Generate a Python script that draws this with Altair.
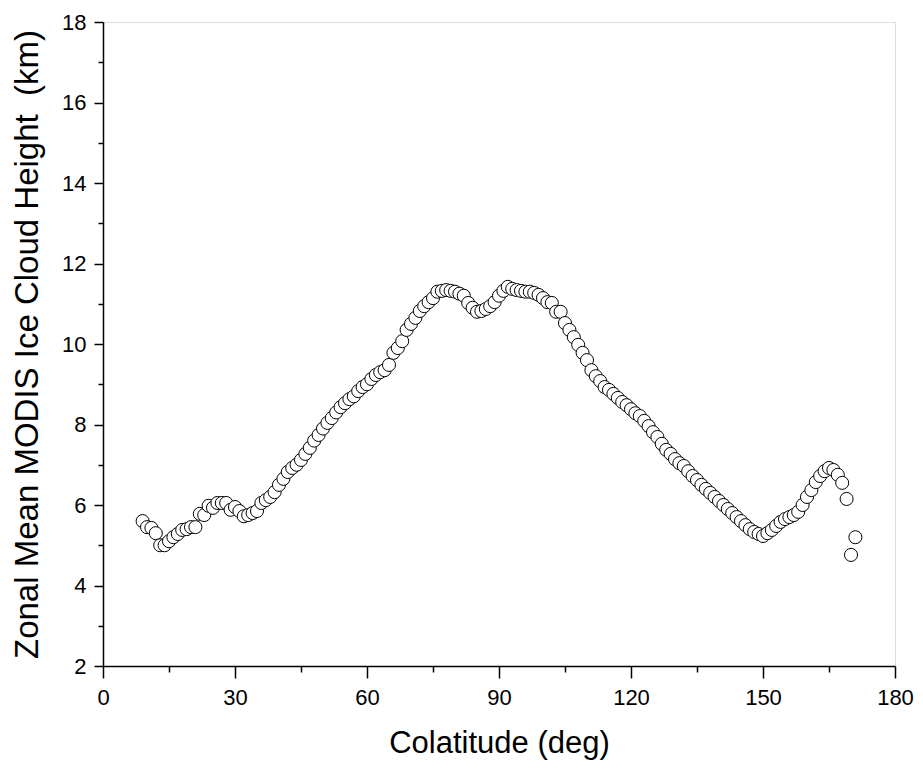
import altair as alt
import pandas as pd

colatitude = list(range(9, 172))
height_km = [
    5.60, 5.45, 5.43, 5.30, 5.00, 5.00, 5.10, 5.20, 5.28, 5.38,
    5.40, 5.45, 5.45, 5.78, 5.75, 5.98, 5.93, 6.05, 6.05, 6.05,
    5.88, 5.95, 5.85, 5.72, 5.75, 5.80, 5.85, 6.05, 6.12, 6.20,
    6.32, 6.50, 6.65, 6.82, 6.92, 7.00, 7.12, 7.27, 7.42, 7.60,
    7.74, 7.90, 8.04, 8.16, 8.30, 8.43, 8.53, 8.63, 8.70, 8.83,
    8.93, 9.00, 9.13, 9.23, 9.30, 9.35, 9.48, 9.78, 9.90, 10.07,
    10.35, 10.50, 10.65, 10.82, 10.94, 11.04, 11.14, 11.30, 11.32, 11.34,
    11.32, 11.30, 11.25, 11.20, 11.02, 10.90, 10.80, 10.82, 10.87, 10.94,
    11.04, 11.20, 11.32, 11.42, 11.37, 11.34, 11.32, 11.30, 11.30, 11.27,
    11.22, 11.14, 11.04, 11.02, 10.80, 10.80, 10.52, 10.35, 10.17, 9.98,
    9.78, 9.60, 9.35, 9.20, 9.08, 8.93, 8.86, 8.76, 8.66, 8.56,
    8.48, 8.38, 8.28, 8.21, 8.09, 7.96, 7.81, 7.69, 7.52, 7.37,
    7.27, 7.14, 7.04, 6.97, 6.84, 6.72, 6.62, 6.50, 6.40, 6.30,
    6.20, 6.10, 6.00, 5.90, 5.80, 5.70, 5.60, 5.50, 5.40, 5.33,
    5.28, 5.23, 5.30, 5.38, 5.48, 5.58, 5.65, 5.70, 5.75, 5.83,
    6.00, 6.20, 6.37, 6.57, 6.72, 6.84, 6.92, 6.87, 6.75, 6.55,
    6.15, 4.76, 5.20,
]

x_ticks = list(range(0, 181, 15))
y_ticks = list(range(2, 19, 1))

df = pd.DataFrame({"colat": colatitude, "h": height_km})

font = "Liberation Sans"

chart = alt.Chart(df).mark_point(
    shape="circle", size=170, fill="white", stroke="black",
    strokeWidth=1, opacity=1, fillOpacity=1, filled=False,
).encode(
    x=alt.X("colat:Q", scale=alt.Scale(domain=[0, 180], nice=False, zero=False),
            axis=alt.Axis(
                title="Colatitude (deg)", values=x_ticks,
                labelExpr="datum.value % 30 === 0 ? datum.label : ''",
                tickSize={"condition": {"test": "datum.value % 30 !== 0", "value": 6}, "value": 12},
                grid=False, labelFlush=False, labelOverlap=False,
                labelFontSize=22, titleFontSize=31, labelPadding=9, titlePadding=20,
                labelFont=font, titleFont=font, titleFontWeight="normal",
                domainColor="black", tickColor="black", labelColor="black", titleColor="black",
                domainWidth=1.5, tickWidth=1.5,
            )),
    y=alt.Y("h:Q", scale=alt.Scale(domain=[2, 18], nice=False, zero=False),
            axis=alt.Axis(
                title="Zonal Mean MODIS Ice Cloud Height\u00a0 (km)", values=y_ticks,
                labelExpr="datum.value % 2 === 0 ? datum.label : ''",
                tickSize={"condition": {"test": "datum.value % 2 !== 0", "value": 5}, "value": 9},
                grid=False, labelFlush=False, labelOverlap=False,
                labelFontSize=22, titleFontSize=33, labelPadding=8, titlePadding=17,
                labelFont=font, titleFont=font, titleFontWeight="normal",
                domainColor="black", tickColor="black", labelColor="black", titleColor="black",
                domainWidth=1.5, tickWidth=1.5,
            )),
).properties(
    width=792, height=644,
    autosize=alt.AutoSizeParams(type="none"),
    padding={"left": 95, "top": 14, "right": 20, "bottom": 95},
).configure_view(
    stroke="black", strokeWidth=1.5,
).configure(background="white")

chart.save("out.html", embed_options={"renderer": "svg", "actions": False})
